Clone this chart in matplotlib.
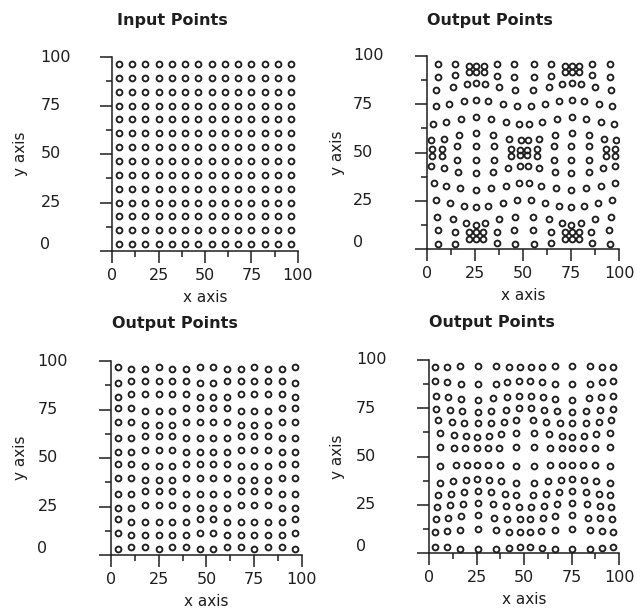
import matplotlib
matplotlib.use("Agg")
import matplotlib.pyplot as plt
import matplotlib.transforms as mtransforms

# --- data ---
grid_x = [3.57, 10.71, 17.86, 25.0, 32.14, 39.29, 46.43, 53.57, 60.71, 67.86, 75.0, 82.14, 89.29, 96.43]
grid_y = [96.43, 89.29, 82.14, 75.0, 67.86, 60.71, 53.57, 46.43, 39.29, 32.14, 25.0, 17.86, 10.71, 3.57]

# warped output, rows listed from top to bottom
warp_x = [
    [5.7, 14.8, 21.9, 25.7, 29.5, 36.5, 45.1, 55.6, 64.8, 71.7, 75.5, 79.0, 86.1, 95.1],
    [5.7, 14.8, 21.9, 25.7, 29.5, 36.5, 45.1, 55.6, 64.8, 71.7, 75.5, 79.0, 86.1, 95.1],
    [4.9, 13.5, 20.6, 25.4, 30.2, 37.5, 45.7, 55.2, 63.5, 70.5, 75.5, 80.4, 87.3, 96.0],
    [4.5, 11.7, 19.3, 25.4, 32.0, 39.5, 46.9, 54.3, 61.4, 68.8, 75.4, 81.9, 89.4, 96.6],
    [3.1, 10.0, 17.8, 25.4, 33.4, 41.1, 48.0, 53.2, 59.8, 67.5, 75.4, 82.9, 90.7, 97.6],
    [2.2, 8.7, 16.5, 25.4, 34.4, 42.5, 49.0, 52.7, 58.3, 66.5, 75.4, 84.2, 92.2, 98.3],
    [2.4, 7.6, 15.6, 25.4, 35.0, 43.6, 48.6, 51.9, 57.1, 66.3, 75.2, 84.5, 93.0, 98.0],
    [2.4, 7.6, 15.6, 25.4, 35.0, 43.6, 48.6, 51.9, 57.1, 66.3, 75.2, 84.5, 93.0, 98.0],
    [2.3, 8.7, 16.1, 25.4, 34.4, 42.2, 48.3, 52.6, 58.3, 66.5, 75.2, 84.2, 91.7, 97.8],
    [3.5, 10.1, 17.4, 25.4, 33.5, 41.3, 47.9, 53.1, 59.5, 67.4, 75.2, 83.0, 90.8, 97.8],
    [4.5, 11.8, 19.1, 25.4, 31.8, 39.6, 46.9, 54.3, 61.3, 68.7, 75.2, 81.6, 89.1, 96.5],
    [5.2, 13.5, 20.5, 25.4, 30.0, 37.5, 45.7, 55.2, 63.5, 70.5, 75.2, 80.4, 87.3, 95.7],
    [5.7, 14.8, 21.9, 25.4, 29.2, 36.5, 45.3, 55.2, 64.8, 71.7, 75.5, 79.0, 85.6, 94.8],
    [5.7, 14.8, 21.9, 25.4, 29.2, 36.5, 45.7, 55.6, 64.8, 71.7, 75.5, 79.0, 86.1, 95.1],
]
warp_y = [
    [95.9, 95.9, 94.9, 94.9, 94.9, 95.9, 95.9, 95.9, 95.9, 94.9, 94.9, 94.9, 95.9, 95.9],
    [89.3, 90.2, 91.6, 91.6, 91.6, 89.6, 89.3, 89.3, 89.6, 91.6, 91.6, 91.6, 90.2, 89.3],
    [82.2, 84.0, 85.3, 86.2, 85.3, 84.0, 82.6, 82.6, 84.0, 85.3, 86.2, 85.3, 84.0, 82.2],
    [73.9, 75.3, 76.6, 77.2, 76.6, 75.3, 73.9, 73.9, 75.3, 76.6, 77.2, 76.6, 75.3, 73.9],
    [64.7, 66.0, 67.5, 68.4, 67.5, 66.0, 64.7, 64.7, 66.0, 67.5, 68.4, 67.5, 66.0, 64.7],
    [56.4, 56.9, 58.9, 60.1, 58.9, 56.9, 56.4, 56.4, 56.9, 58.9, 60.1, 58.9, 56.9, 56.4],
    [51.8, 51.8, 53.3, 53.3, 53.3, 51.8, 51.4, 51.4, 51.8, 53.3, 53.3, 53.3, 51.8, 51.8],
    [48.4, 48.4, 46.0, 46.0, 46.0, 48.4, 48.8, 48.8, 48.4, 46.0, 46.0, 46.0, 48.4, 48.4],
    [43.0, 41.8, 40.1, 39.2, 40.1, 41.8, 43.0, 43.0, 41.8, 40.1, 39.2, 40.1, 41.8, 43.0],
    [34.0, 32.6, 31.4, 30.6, 31.4, 32.6, 34.0, 34.0, 32.6, 31.4, 30.6, 31.4, 32.6, 34.0],
    [25.4, 23.7, 22.3, 21.6, 22.3, 23.7, 25.2, 25.2, 23.7, 22.3, 21.6, 22.3, 23.7, 25.4],
    [16.7, 15.4, 13.6, 12.4, 13.6, 15.4, 16.7, 16.7, 15.4, 13.6, 12.4, 13.6, 15.4, 16.7],
    [9.8, 9.0, 8.6, 8.6, 8.6, 9.0, 9.8, 9.8, 9.0, 8.6, 8.6, 8.6, 9.0, 9.8],
    [2.6, 2.6, 5.4, 5.4, 5.4, 2.9, 2.6, 2.6, 2.9, 5.4, 5.4, 5.4, 2.9, 2.6],
]

# small vertical jitter of the nearly regular output (offset from grid_y)
jitter_dy = [
    [0.6, -0.6, -0.6, 0.6, -0.6, -0.6, 0.6, 0.6, -0.6, -0.6, 0.6, -0.6, -0.6, 0.6],
    [-0.6, 0.6, 0.6, 0.6, 0.6, 0.6, -0.6, -0.6, 0.6, 0.6, 0.6, 0.6, 0.6, -0.6],
    [-0.6, 0.6, 0.6, 0.6, 0.6, 0.6, -0.6, -0.6, -0.6, 0.6, 0.6, 0.6, 0.6, -0.6],
    [0.6, 0.6, -0.6, -0.6, -0.6, 0.6, 0.6, 0.6, 0.6, -0.6, -0.6, -0.6, 0.6, 0.6],
    [0.6, 0.6, -0.6, -0.6, -0.6, 0.6, 0.6, 0.6, 0.6, -0.6, -0.6, -0.6, 0.6, 0.6],
    [-0.6, -0.6, 0.6, 0.6, 0.6, -0.6, -0.6, -0.6, -0.6, 0.6, 0.6, 0.6, -0.6, -0.6],
    [-0.6, -0.6, 0.6, 0.6, 0.6, -0.6, -0.6, -0.6, -0.6, 0.6, 0.6, 0.6, -0.6, -0.6],
    [0.6, 0.6, -0.6, -0.6, -0.6, 0.6, 0.6, 0.6, 0.6, -0.6, -0.6, -0.6, 0.6, 0.6],
    [0.6, 0.6, -0.6, -0.6, -0.6, 0.6, 0.6, 0.6, 0.6, -0.6, -0.6, -0.6, 0.6, 0.6],
    [-0.6, -0.6, 0.6, 0.6, 0.6, -0.6, -0.6, -0.6, -0.6, 0.6, 0.6, 0.6, -0.6, -0.6],
    [-0.6, -0.6, 0.6, 0.6, 0.6, -0.6, -0.6, -0.6, -0.6, 0.6, 0.6, 0.6, -0.6, -0.6],
    [0.6, -0.6, -0.6, -0.6, -0.6, -0.6, 0.6, 0.6, -0.6, -0.6, -0.6, -0.6, -0.6, 0.6],
    [0.6, -0.6, -0.6, -0.6, -0.6, -0.6, 0.6, 0.6, -0.6, -0.6, -0.6, -0.6, -0.6, 0.6],
    [-0.6, 0.6, 0.6, -0.6, 0.6, 0.6, -0.6, -0.6, 0.6, 0.6, -0.6, 0.6, 0.6, -0.6],
]

# wavy output, rows listed from top to bottom
wave_x = [
    [3.3, 9.6, 16.3, 25.9, 35.1, 42.0, 48.1, 53.6, 59.4, 66.3, 75.4, 84.5, 91.0, 97.1],
    [3.3, 9.6, 16.8, 25.9, 35.1, 41.1, 47.5, 53.2, 59.4, 66.3, 75.4, 84.5, 91.0, 97.1],
    [3.8, 10.2, 16.8, 25.9, 33.9, 40.8, 47.2, 53.6, 59.9, 66.3, 75.4, 84.0, 90.6, 96.7],
    [3.8, 10.8, 17.4, 25.9, 32.8, 40.3, 47.2, 53.6, 60.6, 67.5, 75.4, 82.8, 90.1, 96.7],
    [4.7, 12.0, 18.2, 25.9, 32.5, 39.4, 46.0, 54.7, 61.6, 69.0, 75.4, 82.5, 89.4, 95.8],
    [5.6, 13.4, 19.4, 25.5, 31.6, 37.7, 46.0, 55.0, 63.4, 69.8, 75.4, 81.4, 88.0, 95.3],
    [5.6, 13.4, 18.9, 25.2, 31.3, 36.8, 46.0, 55.0, 63.7, 69.8, 75.4, 81.1, 87.2, 95.3],
    [5.6, 14.2, 19.9, 25.5, 31.3, 37.3, 46.0, 55.0, 63.7, 69.8, 75.4, 81.1, 87.2, 95.3],
    [5.6, 12.5, 19.4, 25.5, 31.6, 38.0, 46.0, 55.0, 62.8, 69.3, 75.4, 81.4, 88.0, 95.3],
    [4.7, 11.6, 18.6, 25.9, 32.8, 39.8, 46.0, 54.7, 61.6, 68.6, 75.4, 82.5, 89.4, 95.5],
    [4.3, 11.3, 17.7, 25.9, 33.7, 40.6, 47.2, 53.6, 60.6, 67.5, 75.4, 83.2, 89.8, 95.8],
    [3.8, 10.2, 16.8, 25.9, 34.2, 41.1, 47.7, 53.3, 59.9, 66.3, 75.4, 83.7, 90.1, 96.4],
    [3.3, 9.6, 16.3, 25.9, 35.1, 42.0, 47.7, 53.3, 59.0, 66.3, 75.4, 84.5, 91.0, 97.1],
    [3.3, 9.6, 16.3, 25.9, 35.1, 42.0, 47.7, 53.3, 59.4, 66.3, 75.4, 84.5, 91.0, 97.1],
]
wave_y = [
    [96.2, 96.2, 97.1, 97.1, 97.1, 96.2, 96.2, 96.2, 96.2, 97.1, 97.1, 97.1, 96.2, 96.2],
    [88.9, 88.4, 87.7, 87.7, 87.7, 88.4, 88.9, 88.9, 88.4, 87.7, 87.4, 87.7, 88.4, 88.9],
    [81.2, 80.8, 79.7, 79.5, 80.1, 80.6, 81.2, 81.2, 80.6, 79.7, 79.5, 80.1, 80.8, 81.2],
    [74.8, 74.3, 73.4, 73.1, 73.6, 74.3, 75.1, 75.1, 74.3, 73.6, 73.1, 73.6, 74.3, 74.8],
    [68.8, 68.0, 67.6, 67.1, 67.5, 68.0, 68.8, 68.8, 68.0, 67.1, 67.1, 67.5, 68.0, 68.8],
    [62.3, 61.2, 60.6, 60.3, 60.6, 61.8, 62.3, 62.3, 61.8, 60.6, 60.3, 60.6, 61.5, 62.3],
    [54.8, 54.3, 54.3, 54.3, 54.3, 54.3, 54.8, 54.8, 54.3, 54.3, 54.3, 54.3, 54.3, 54.8],
    [44.9, 45.7, 45.7, 45.7, 45.7, 45.7, 44.9, 44.9, 45.7, 45.7, 45.7, 45.7, 45.7, 44.9],
    [36.3, 37.2, 38.0, 38.4, 38.0, 37.2, 36.3, 36.3, 37.2, 38.0, 38.4, 38.0, 37.2, 36.3],
    [30.3, 30.8, 31.5, 32.0, 31.5, 30.8, 30.3, 30.3, 30.8, 31.5, 32.0, 31.5, 30.8, 30.3],
    [24.0, 24.7, 25.2, 26.0, 25.2, 24.3, 24.0, 24.0, 24.3, 25.2, 26.0, 25.2, 24.3, 24.0],
    [17.8, 18.3, 19.2, 19.5, 18.3, 17.8, 17.8, 17.8, 18.3, 19.2, 19.5, 18.3, 18.3, 17.8],
    [11.1, 11.5, 12.0, 12.3, 12.0, 11.1, 11.1, 11.1, 11.5, 12.0, 12.3, 12.0, 11.5, 11.1],
    [2.9, 2.9, 2.1, 2.1, 2.1, 2.6, 2.9, 2.9, 2.6, 2.1, 2.1, 2.1, 2.6, 2.9],
]

x_ticks = [0, 25, 50, 75, 100]
x_minor = [12.5, 37.5, 62.5, 87.5]
tick_labels = ["0", "25", "50", "75", "100"]

ink = "#1e1e1e"
plt.rcParams["font.family"] = "DejaVu Sans"

fig = plt.figure(figsize=(6.42, 6.11), dpi=100)
W, H = 642, 611


def px_axes(x0, x1, ytop, ybot):
    return fig.add_axes([x0 / W, 1 - ybot / H, (x1 - x0) / W, (ybot - ytop) / H])


def style(ax):
    ax.set_xlim(0, 100)
    ax.set_ylim(0, 100)
    for s in ["top", "right"]:
        ax.spines[s].set_visible(False)
    for s in ["left", "bottom"]:
        ax.spines[s].set_linewidth(1.1)
        ax.spines[s].set_color(ink)
    ax.set_xticks(x_ticks)
    ax.set_xticks(x_minor, minor=True)
    ax.set_yticks(x_ticks)
    ax.set_yticks(x_minor, minor=True)
    ax.set_xticklabels(tick_labels, fontsize=11.5, color=ink)
    ax.set_yticklabels([])
    ax.tick_params(which="major", direction="out", length=8.5, width=1.1, color=ink, pad=4)
    ax.tick_params(which="minor", direction="out", length=4, width=1.1, color=ink)
    trans = mtransforms.blended_transform_factory(ax.transAxes, ax.transData)
    for v, lab in zip(x_ticks, tick_labels):
        ax.text(-0.385, v if v > 0 else 3.5, lab, transform=trans, ha="left",
                va="center", fontsize=11.5, color=ink)
    ax.text(0.5, -0.24, "x axis", transform=ax.transAxes, ha="center",
            va="center", fontsize=11, color=ink)


def dots(ax, xs, ys):
    ax.plot(xs, ys, "o", ms=4.2, mfc="none", mec=ink, mew=1.35, clip_on=True)


panels = [
    (px_axes(112, 298, 57, 251), "Input Points", 172, 20, 21),
    (px_axes(427, 619, 56, 249), "Output Points", 490, 20, 338),
    (px_axes(111, 302, 361, 555), "Output Points", 175, 323, 20),
    (px_axes(429, 619, 360, 553), "Output Points", 492, 322, 338),
]

ax1, ax2, ax3, ax4 = [p[0] for p in panels]

for yv in grid_y:
    dots(ax1, grid_x, [yv] * len(grid_x))

for xs, ys in zip(warp_x, warp_y):
    dots(ax2, xs, ys)

for yv, dy in zip(grid_y, jitter_dy):
    dots(ax3, grid_x, [yv + d for d in dy])

for xs, ys in zip(wave_x, wave_y):
    dots(ax4, xs, ys)

for ax, title, tx, ty, ylx in panels:
    style(ax)
    fig.text(tx / W, 1 - ty / H, title, ha="center", va="center",
             fontsize=11.5, fontweight="bold", color=ink)
    bb = ax.get_position()
    fig.text(ylx / W, bb.y0 + bb.height / 2, "y axis", rotation=90,
             ha="center", va="center", fontsize=11, color=ink)

fig.savefig("out.png", dpi=100)
